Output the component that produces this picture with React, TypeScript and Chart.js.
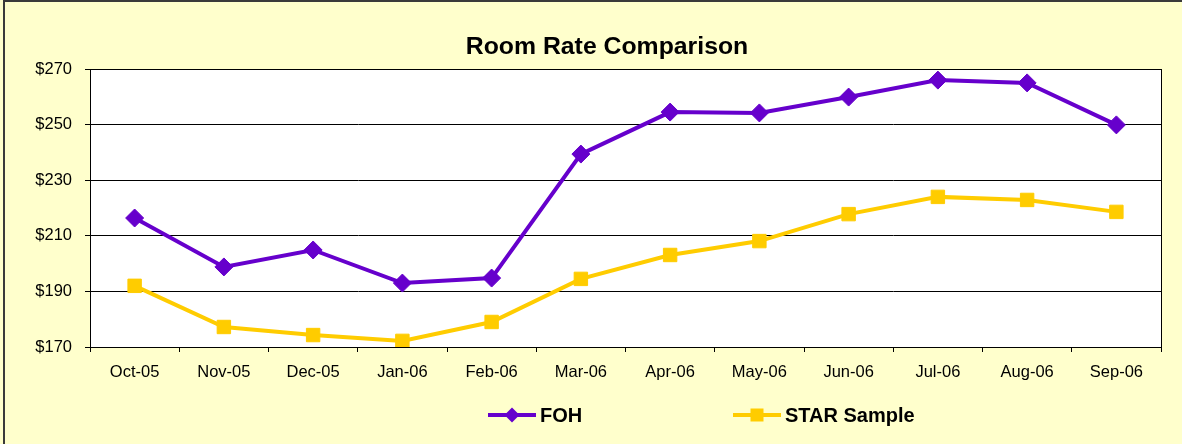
import React, { useEffect, useRef } from "react";
import { Chart, registerables } from "chart.js";

Chart.register(...registerables);

const categories = ["Oct-05", "Nov-05", "Dec-05", "Jan-06", "Feb-06", "Mar-06", "Apr-06", "May-06", "Jun-06", "Jul-06", "Aug-06", "Sep-06"];
const fohValues = [216.4, 198.8, 204.9, 193.0, 194.8, 239.4, 254.5, 254.2, 259.9, 266.0, 265.0, 249.9];
const starValues = [192.0, 177.2, 174.3, 172.2, 179.0, 194.5, 203.1, 208.1, 217.8, 224.0, 222.9, 218.6];
const seriesNames = ["FOH", "STAR Sample"];
const titleText = "Room Rate Comparison";
const yMin = 170;
const yMax = 270;
const yStep = 20;

const FONT = 'Arial, "Liberation Sans", sans-serif';
const PURPLE = "#6600CC";
const GOLD = "#FFCC00";
const BG = "#FFFFCC";

export default function App() {
  const ref = useRef<HTMLCanvasElement | null>(null);

  useEffect(() => {
    if (!ref.current) return;

    const decor = {
      id: "decor",
      beforeDraw(chart: any) {
        const { ctx, chartArea } = chart;
        ctx.save();
        ctx.fillStyle = BG;
        ctx.fillRect(0, 0, chart.width, chart.height);
        ctx.fillStyle = "#FFFFFF";
        ctx.fillRect(chartArea.left, chartArea.top, chartArea.right - chartArea.left, chartArea.bottom - chartArea.top);
        ctx.strokeStyle = "#3a3a3a";
        ctx.lineWidth = 2;
        ctx.beginPath();
        ctx.moveTo(4, 444);
        ctx.lineTo(4, 1);
        ctx.lineTo(chart.width, 1);
        ctx.stroke();
        ctx.restore();
      },
      beforeDatasetsDraw(chart: any) {
        const { ctx, chartArea } = chart;
        ctx.save();
        ctx.strokeStyle = "#000";
        ctx.lineWidth = 1;
        ctx.strokeRect(Math.round(chartArea.left) + 0.5, Math.round(chartArea.top) + 0.5, Math.round(chartArea.right - chartArea.left), Math.round(chartArea.bottom - chartArea.top));
        ctx.restore();
      },
      afterDraw(chart: any) {
        const { ctx } = chart;
        ctx.save();
        ctx.fillStyle = "#000";
        ctx.font = `bold 24.8px ${FONT}`;
        ctx.textAlign = "center";
        ctx.textBaseline = "alphabetic";
        ctx.fillText(titleText, 607, 54);
        const items = [
          { x: 488, color: PURPLE, style: "diamond", label: seriesNames[0] },
          { x: 733, color: GOLD, style: "square", label: seriesNames[1] },
        ];
        const y = 415;
        items.forEach((it) => {
          ctx.strokeStyle = it.color;
          ctx.lineWidth = 4;
          ctx.beginPath();
          ctx.moveTo(it.x, y);
          ctx.lineTo(it.x + 48, y);
          ctx.stroke();
          const cx = it.x + 24;
          ctx.fillStyle = it.color;
          ctx.beginPath();
          if (it.style === "diamond") {
            ctx.moveTo(cx, y - 7.5);
            ctx.lineTo(cx + 7.5, y);
            ctx.lineTo(cx, y + 7.5);
            ctx.lineTo(cx - 7.5, y);
            ctx.closePath();
          } else {
            ctx.rect(cx - 6.5, y - 6.5, 13, 13);
          }
          ctx.fill();
          ctx.fillStyle = "#000";
          ctx.font = `bold 20px ${FONT}`;
          ctx.textAlign = "left";
          ctx.textBaseline = "middle";
          ctx.fillText(it.label, it.x + 52, y + 1);
        });
        ctx.restore();
      },
    };

    const chart = new Chart(ref.current, {
      type: "line",
      data: {
        labels: categories,
        datasets: [
          {
            label: seriesNames[0],
            data: fohValues,
            borderColor: PURPLE,
            backgroundColor: PURPLE,
            borderWidth: 4,
            pointStyle: "rectRot",
            pointRadius: 9,
            pointBorderWidth: 1,
            pointBackgroundColor: PURPLE,
            pointBorderColor: PURPLE,
            tension: 0,
          },
          {
            label: seriesNames[1],
            data: starValues,
            borderColor: GOLD,
            backgroundColor: GOLD,
            borderWidth: 4,
            pointStyle: "rect",
            pointRadius: 9.5,
            pointBorderWidth: 1,
            pointBackgroundColor: GOLD,
            pointBorderColor: GOLD,
            tension: 0,
          },
        ],
      },
      options: {
        responsive: false,
        animation: false,
        layout: { padding: { left: 0, right: 21, top: 69, bottom: 0 } },
        plugins: {
          legend: { display: false },
          title: { display: false },
          tooltip: { enabled: false },
        },
        scales: {
          x: {
            offset: true,
            grid: { display: true, drawOnChartArea: false, drawTicks: true, tickLength: 5, offset: true, color: "#000" },
            border: { display: true, color: "#000", width: 1 },
            ticks: { color: "#000", font: { family: FONT, size: 16.5 }, padding: 11, maxRotation: 0, autoSkip: false },
            afterFit: (s: any) => { s.height = 97; },
          },
          y: {
            min: yMin,
            max: yMax,
            grid: { color: "#000", lineWidth: 1, drawTicks: true, tickLength: 5 },
            border: { display: true, color: "#000", width: 1 },
            ticks: {
              stepSize: yStep,
              color: "#000",
              font: { family: FONT, size: 16.5 },
              padding: 13,
              callback: (v: any) => "$" + v,
            },
            afterFit: (s: any) => { s.width = 90; },
          },
        },
      },
      plugins: [decor],
    });

    return () => chart.destroy();
  }, []);

  return (
    <div style={{ position: "fixed", left: 0, top: 0, width: 1182, height: 444, background: BG }}>
      <canvas ref={ref} width={1182} height={444} style={{ display: "block", width: 1182, height: 444 }} />
    </div>
  );
}
